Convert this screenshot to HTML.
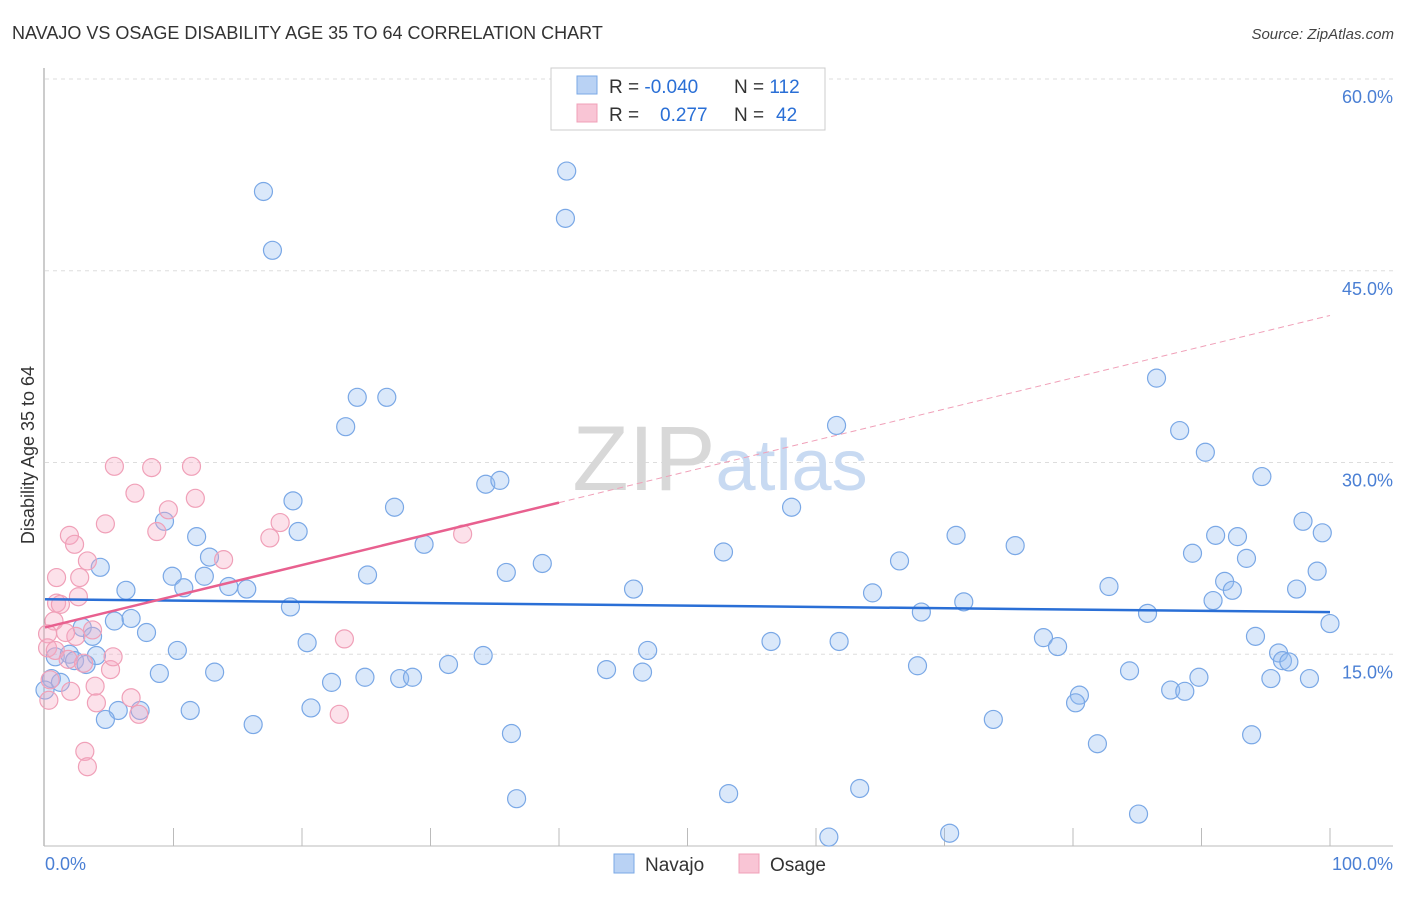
<!DOCTYPE html>
<html><head><meta charset="utf-8"><style>
body{margin:0;background:#fff;font-family:"Liberation Sans",sans-serif;}
svg text{font-family:"Liberation Sans",sans-serif;}
</style></head><body>
<svg id="chart" width="1406" height="892">
<text x="12" y="39" font-size="18" fill="#333">NAVAJO VS OSAGE DISABILITY AGE 35 TO 64 CORRELATION CHART</text>
<text x="1394" y="39" font-size="15" fill="#444" font-style="italic" text-anchor="end">Source: ZipAtlas.com</text>
<g id="grid"></g>
<text x="720" y="490" font-size="92" fill="#d8d8d8" text-anchor="middle" font-family="Liberation Serif">ZIP<tspan fill="#c8daf2" font-family="Liberation Sans" font-size="72">atlas</tspan></text>
<line x1="44" y1="68" x2="44" y2="846" stroke="#999"/>
<line x1="44" y1="846" x2="1393" y2="846" stroke="#bbb"/>
<g id="ticks"></g>
<text x="34" y="455" font-size="18" fill="#333" text-anchor="middle" transform="rotate(-90 34 455)">Disability Age 35 to 64</text>
<text x="45" y="870" font-size="18" fill="#4a7fd4">0.0%</text>
<text x="1393" y="870" font-size="18" fill="#4a7fd4" text-anchor="end">100.0%</text>
<g id="pts"></g>
<g id="lines"></g>
<g>
<rect x="551" y="68" width="274" height="62" fill="#fff" stroke="#ccc"/>
<rect x="577" y="76" width="20" height="18" fill="#b9d2f4" stroke="#7aa8e6"/>
<rect x="577" y="104" width="20" height="18" fill="#f9c5d5" stroke="#f0a0b8"/>
<text x="609" y="93" font-size="19" fill="#333">R = <tspan fill="#2a6fd6">-0.040</tspan><tspan x="734">N = </tspan><tspan fill="#2a6fd6">112</tspan></text>
<text x="609" y="121" font-size="19" fill="#333">R = <tspan x="660" fill="#2a6fd6">0.277</tspan><tspan x="734">N = </tspan><tspan fill="#2a6fd6" x="776">42</tspan></text>
</g>
<g>
<rect x="614" y="854" width="20" height="19" fill="#b9d2f4" stroke="#7aa8e6"/>
<text x="645" y="871" font-size="19" fill="#333">Navajo</text>
<rect x="739" y="854" width="20" height="19" fill="#f9c5d5" stroke="#f0a0b8"/>
<text x="770" y="871" font-size="19" fill="#333">Osage</text>
</g>
</svg>
<script>
const yTicks=[15,30,45,60];
const yTickLabels=["15.0%","30.0%","45.0%","60.0%"];
const xTicks=[10,20,30,40,50,60,70,80,90,100];
const navajoX=[17.0,17.7,40.6,40.5,24.3,26.6,23.4,61.6,86.5,88.3,90.3,94.7,19.3,27.2,34.3,35.4,58.1,9.3,19.7,11.8,4.3,12.8,29.5,38.7,35.9,25.1,9.9,12.4,6.3,10.8,14.3,15.7,45.8,52.8,66.5,70.9,75.5,97.9,99.4,91.1,92.8,89.3,93.5,99.0,91.8,92.4,97.4,82.8,64.4,71.5,68.2,85.8,90.9,19.1,5.4,6.7,7.9,2.9,20.4,46.9,56.5,61.8,77.7,78.8,94.2,96.0,96.3,96.8,100,3.7,0.8,1.9,4.0,2.3,3.2,10.3,8.9,13.2,31.4,34.1,43.7,46.5,67.9,84.4,24.9,22.3,27.6,28.6,95.4,98.4,89.8,87.6,88.7,80.5,80.2,0.5,1.2,0.0,5.7,4.7,7.4,11.3,20.7,16.2,36.3,73.8,81.9,93.9,36.7,53.2,63.4,61.0,70.4,85.1];
const navajoY=[51.2,46.6,52.8,49.1,35.1,35.1,32.8,32.9,36.6,32.5,30.8,28.9,27.0,26.5,28.3,28.6,26.5,25.4,24.6,24.2,21.8,22.6,23.6,22.1,21.4,21.2,21.1,21.1,20.0,20.2,20.3,20.1,20.1,23.0,22.3,24.3,23.5,25.4,24.5,24.3,24.2,22.9,22.5,21.5,20.7,20.0,20.1,20.3,19.8,19.1,18.3,18.2,19.2,18.7,17.6,17.8,16.7,17.1,15.9,15.3,16.0,16.0,16.3,15.6,16.4,15.1,14.5,14.4,17.4,16.4,14.8,15.0,14.9,14.5,14.2,15.3,13.5,13.6,14.2,14.9,13.8,13.6,14.1,13.7,13.2,12.8,13.1,13.2,13.1,13.1,13.2,12.2,12.1,11.8,11.2,13.1,12.8,12.2,10.6,9.9,10.6,10.6,10.8,9.5,8.8,9.9,8.0,8.7,3.7,4.1,4.5,0.7,1.0,2.5];
const osageX=[5.4,8.3,11.4,7.0,11.7,9.6,4.7,8.7,1.9,2.3,18.3,17.5,13.9,3.3,0.9,2.7,2.6,0.9,1.2,0.7,0.2,3.7,2.4,1.6,0.2,0.8,1.8,3.0,5.1,5.3,23.3,3.9,2.0,4.0,6.7,7.3,22.9,3.1,3.3,0.3,32.5,0.4];
const osageY=[29.7,29.6,29.7,27.6,27.2,26.3,25.2,24.6,24.3,23.6,25.3,24.1,22.4,22.3,21.0,21.0,19.5,19.0,18.9,17.6,16.6,16.9,16.4,16.7,15.5,15.3,14.6,14.3,13.8,14.8,16.2,12.5,12.1,11.2,11.6,10.3,10.3,7.4,6.2,11.4,24.4,13.0];
const navajoTrend=[19.3,18.3];
const osageTrend=[17.1,41.5];
const osageSolidEnd=40;
const X0=45,X1=1330,Y0=846,Y60=79;
const sx=v=>X0+(X1-X0)*v/100;
const sy=v=>Y0-(Y0-Y60)*v/60;
const NS="http://www.w3.org/2000/svg";
function mk(tag,attrs,parent){const e=document.createElementNS(NS,tag);for(const k in attrs)e.setAttribute(k,attrs[k]);document.getElementById(parent).appendChild(e);return e;}
yTicks.forEach((t,i)=>{
 const l=mk('line',{x1:45,x2:1393,y1:sy(t),y2:sy(t),stroke:'#ddd','stroke-dasharray':'4,4'},'grid');
 
 
 const tx=mk('text',{x:1393,y:sy(t)+24,'font-size':18,fill:'#4a7fd4','text-anchor':'end'},'grid');
 tx.textContent=yTickLabels[i];
 
 
});
xTicks.forEach(t=>{
 const l=mk('line',{x1:sx(t),x2:sx(t),y1:828,y2:846,stroke:'#bbb'},'ticks');
 
 
});
navajoX.forEach((x,i)=>{
 const c=mk('circle',{cx:sx(x),cy:sy(navajoY[i]),r:9,fill:'rgba(150,190,240,0.35)',stroke:'#7aa8e6','stroke-width':1.2},'pts');
 
 
});
osageX.forEach((x,i)=>{
 const c=mk('circle',{cx:sx(x),cy:sy(osageY[i]),r:9,fill:'rgba(245,170,195,0.35)',stroke:'#f0a0b8','stroke-width':1.2},'pts');
 
 
});
const nl=mk('line',{x1:sx(0),y1:sy(navajoTrend[0]),x2:sx(100),y2:sy(navajoTrend[1]),stroke:'#2a6fd6','stroke-width':2.5},'lines');


const oy=v=>osageTrend[0]+(osageTrend[1]-osageTrend[0])*v/100;
const ol=mk('line',{x1:sx(0),y1:sy(oy(0)),x2:sx(osageSolidEnd),y2:sy(oy(osageSolidEnd)),stroke:'#e8608f','stroke-width':2.5},'lines');


const od=mk('line',{x1:sx(osageSolidEnd),y1:sy(oy(osageSolidEnd)),x2:sx(100),y2:sy(oy(100)),stroke:'#f0a0b8','stroke-width':1,'stroke-dasharray':'6,4'},'lines');


</script>
</body></html>
